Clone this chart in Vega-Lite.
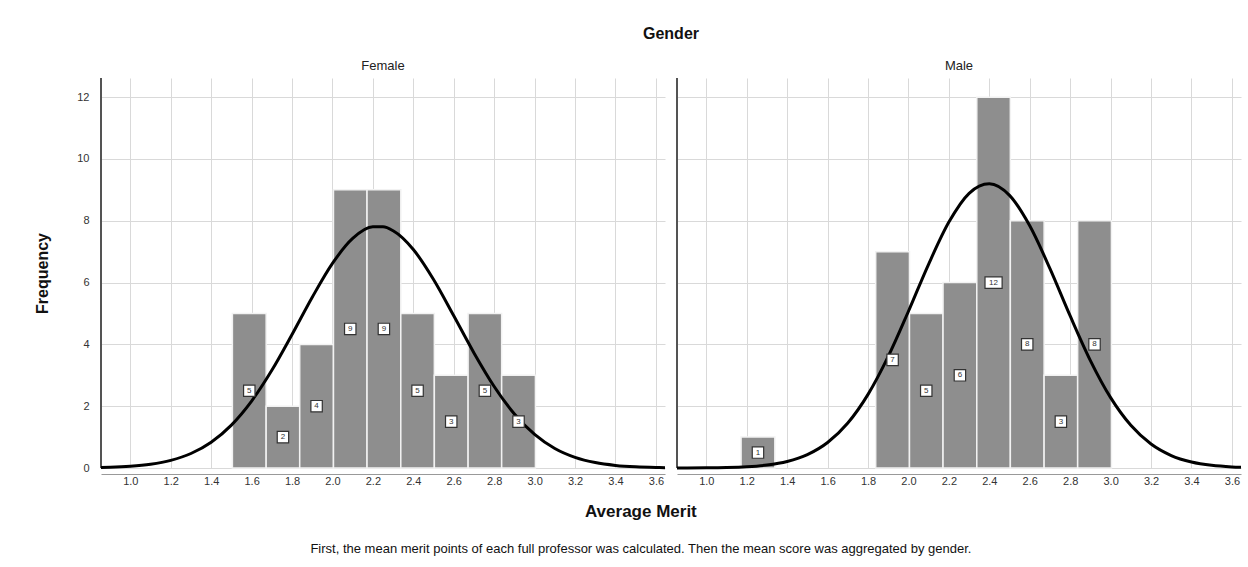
{
  "$schema": "https://vega.github.io/schema/vega-lite/v6.json",
  "background": "white",
  "padding": {"left": 34, "top": 26, "right": 4, "bottom": 4},
  "title": {
    "text": "Average Merit",
    "subtitle": "First, the mean merit points of each full professor was calculated. Then the mean score was aggregated by gender.",
    "orient": "bottom",
    "anchor": "middle",
    "font": "Liberation Sans",
    "fontSize": 17,
    "fontWeight": "bold",
    "color": "#111111",
    "subtitleFont": "Liberation Sans",
    "subtitleFontSize": 13,
    "subtitleColor": "#111111",
    "subtitlePadding": 22,
    "offset": 18
  },
  "data": {
    "values": [
      {"gender": "Female", "kind": "bar", "lo": 1.505, "hi": 1.672, "count": 5},
      {"gender": "Female", "kind": "bar", "lo": 1.672, "hi": 1.838, "count": 2},
      {"gender": "Female", "kind": "bar", "lo": 1.838, "hi": 2.005, "count": 4},
      {"gender": "Female", "kind": "bar", "lo": 2.005, "hi": 2.171, "count": 9},
      {"gender": "Female", "kind": "bar", "lo": 2.171, "hi": 2.338, "count": 9},
      {"gender": "Female", "kind": "bar", "lo": 2.338, "hi": 2.504, "count": 5},
      {"gender": "Female", "kind": "bar", "lo": 2.504, "hi": 2.671, "count": 3},
      {"gender": "Female", "kind": "bar", "lo": 2.671, "hi": 2.837, "count": 5},
      {"gender": "Female", "kind": "bar", "lo": 2.837, "hi": 3.004, "count": 3},
      {"gender": "Male", "kind": "bar", "lo": 1.172, "hi": 1.339, "count": 1},
      {"gender": "Male", "kind": "bar", "lo": 1.838, "hi": 2.005, "count": 7},
      {"gender": "Male", "kind": "bar", "lo": 2.005, "hi": 2.171, "count": 5},
      {"gender": "Male", "kind": "bar", "lo": 2.171, "hi": 2.338, "count": 6},
      {"gender": "Male", "kind": "bar", "lo": 2.338, "hi": 2.504, "count": 12},
      {"gender": "Male", "kind": "bar", "lo": 2.504, "hi": 2.671, "count": 8},
      {"gender": "Male", "kind": "bar", "lo": 2.671, "hi": 2.837, "count": 3},
      {"gender": "Male", "kind": "bar", "lo": 2.837, "hi": 3.004, "count": 8},
      {"gender": "Female", "kind": "curve", "x": 0.855, "y": 0.017},
      {"gender": "Female", "kind": "curve", "x": 0.9, "y": 0.024},
      {"gender": "Female", "kind": "curve", "x": 1.0, "y": 0.056},
      {"gender": "Female", "kind": "curve", "x": 1.1, "y": 0.122},
      {"gender": "Female", "kind": "curve", "x": 1.2, "y": 0.247},
      {"gender": "Female", "kind": "curve", "x": 1.3, "y": 0.469},
      {"gender": "Female", "kind": "curve", "x": 1.4, "y": 0.835},
      {"gender": "Female", "kind": "curve", "x": 1.5, "y": 1.389},
      {"gender": "Female", "kind": "curve", "x": 1.6, "y": 2.166},
      {"gender": "Female", "kind": "curve", "x": 1.7, "y": 3.16},
      {"gender": "Female", "kind": "curve", "x": 1.8, "y": 4.319},
      {"gender": "Female", "kind": "curve", "x": 1.9, "y": 5.526},
      {"gender": "Female", "kind": "curve", "x": 2.0, "y": 6.621},
      {"gender": "Female", "kind": "curve", "x": 2.1, "y": 7.428},
      {"gender": "Female", "kind": "curve", "x": 2.2, "y": 7.804},
      {"gender": "Female", "kind": "curve", "x": 2.25, "y": 7.804},
      {"gender": "Female", "kind": "curve", "x": 2.3, "y": 7.677},
      {"gender": "Female", "kind": "curve", "x": 2.4, "y": 7.071},
      {"gender": "Female", "kind": "curve", "x": 2.5, "y": 6.099},
      {"gender": "Female", "kind": "curve", "x": 2.6, "y": 4.925},
      {"gender": "Female", "kind": "curve", "x": 2.7, "y": 3.725},
      {"gender": "Female", "kind": "curve", "x": 2.8, "y": 2.638},
      {"gender": "Female", "kind": "curve", "x": 2.9, "y": 1.749},
      {"gender": "Female", "kind": "curve", "x": 3.0, "y": 1.086},
      {"gender": "Female", "kind": "curve", "x": 3.1, "y": 0.631},
      {"gender": "Female", "kind": "curve", "x": 3.2, "y": 0.344},
      {"gender": "Female", "kind": "curve", "x": 3.3, "y": 0.175},
      {"gender": "Female", "kind": "curve", "x": 3.4, "y": 0.084},
      {"gender": "Female", "kind": "curve", "x": 3.5, "y": 0.037},
      {"gender": "Female", "kind": "curve", "x": 3.6, "y": 0.016},
      {"gender": "Female", "kind": "curve", "x": 3.645, "y": 0.011},
      {"gender": "Male", "kind": "curve", "x": 0.855, "y": 0.001},
      {"gender": "Male", "kind": "curve", "x": 0.9, "y": 0.002},
      {"gender": "Male", "kind": "curve", "x": 1.0, "y": 0.005},
      {"gender": "Male", "kind": "curve", "x": 1.1, "y": 0.015},
      {"gender": "Male", "kind": "curve", "x": 1.2, "y": 0.04},
      {"gender": "Male", "kind": "curve", "x": 1.3, "y": 0.095},
      {"gender": "Male", "kind": "curve", "x": 1.4, "y": 0.211},
      {"gender": "Male", "kind": "curve", "x": 1.5, "y": 0.433},
      {"gender": "Male", "kind": "curve", "x": 1.6, "y": 0.825},
      {"gender": "Male", "kind": "curve", "x": 1.7, "y": 1.456},
      {"gender": "Male", "kind": "curve", "x": 1.8, "y": 2.383},
      {"gender": "Male", "kind": "curve", "x": 1.9, "y": 3.612},
      {"gender": "Male", "kind": "curve", "x": 2.0, "y": 5.073},
      {"gender": "Male", "kind": "curve", "x": 2.1, "y": 6.601},
      {"gender": "Male", "kind": "curve", "x": 2.2, "y": 7.957},
      {"gender": "Male", "kind": "curve", "x": 2.3, "y": 8.889},
      {"gender": "Male", "kind": "curve", "x": 2.4, "y": 9.198},
      {"gender": "Male", "kind": "curve", "x": 2.5, "y": 8.821},
      {"gender": "Male", "kind": "curve", "x": 2.6, "y": 7.837},
      {"gender": "Male", "kind": "curve", "x": 2.7, "y": 6.451},
      {"gender": "Male", "kind": "curve", "x": 2.8, "y": 4.92},
      {"gender": "Male", "kind": "curve", "x": 2.9, "y": 3.477},
      {"gender": "Male", "kind": "curve", "x": 3.0, "y": 2.276},
      {"gender": "Male", "kind": "curve", "x": 3.1, "y": 1.381},
      {"gender": "Male", "kind": "curve", "x": 3.2, "y": 0.776},
      {"gender": "Male", "kind": "curve", "x": 3.3, "y": 0.404},
      {"gender": "Male", "kind": "curve", "x": 3.4, "y": 0.195},
      {"gender": "Male", "kind": "curve", "x": 3.5, "y": 0.087},
      {"gender": "Male", "kind": "curve", "x": 3.6, "y": 0.036},
      {"gender": "Male", "kind": "curve", "x": 3.645, "y": 0.024}
    ]
  },
  "facet": {
    "column": {
      "field": "gender",
      "type": "nominal",
      "title": "Gender",
      "header": {
        "titleFont": "Liberation Sans",
        "titleFontSize": 16,
        "titleFontWeight": "bold",
        "titleColor": "#111111",
        "titlePadding": 8,
        "labelFont": "Liberation Sans",
        "labelFontSize": 13,
        "labelColor": "#222222",
        "labelPadding": 4
      }
    }
  },
  "spacing": 0,
  "spec": {
    "width": 564,
    "height": 390,
    "layer": [
      {
        "transform": [{"filter": "datum.kind == 'bar'"}],
        "mark": {"type": "bar", "fill": "#8e8e8e", "stroke": "#f2f2f2", "strokeWidth": 1.5},
        "encoding": {
          "x": {
            "field": "lo",
            "type": "quantitative",
            "scale": {"domain": [0.855, 3.645], "nice": false, "zero": false},
            "axis": {
              "title": null,
              "values": [1.0, 1.2, 1.4, 1.6, 1.8, 2.0, 2.2, 2.4, 2.6, 2.8, 3.0, 3.2, 3.4, 3.6],
              "format": ".1f",
              "grid": true,
              "gridColor": "#d9d9d9",
              "ticks": false,
              "domainColor": "#999999",
              "labelFont": "Liberation Sans",
              "labelFontSize": 11,
              "labelColor": "#333333",
              "labelPadding": 1
            }
          },
          "x2": {"field": "hi"},
          "y": {
            "field": "count",
            "type": "quantitative",
            "scale": {"domain": [0, 12.62], "nice": false},
            "axis": {
              "title": "Frequency",
              "values": [0, 2, 4, 6, 8, 10, 12],
              "grid": true,
              "gridColor": "#d9d9d9",
              "ticks": false,
              "domain": false,
              "labelFont": "Liberation Sans",
              "labelFontSize": 11,
              "labelColor": "#333333",
              "labelPadding": 6,
              "titleFont": "Liberation Sans",
              "titleFontSize": 16,
              "titleFontWeight": "bold",
              "titleColor": "#111111",
              "titlePadding": 26
            }
          },
          "y2": {"datum": 0}
        }
      },
      {
        "mark": {"type": "rule", "color": "#555555", "strokeWidth": 1.5},
        "encoding": {"x": {"datum": 0.855}}
      },
      {
        "transform": [{"filter": "datum.kind == 'curve'"}],
        "mark": {"type": "line", "color": "#000000", "strokeWidth": 3, "interpolate": "monotone"},
        "encoding": {
          "x": {"field": "x", "type": "quantitative"},
          "y": {"field": "y", "type": "quantitative"}
        }
      },
      {
        "transform": [
          {"filter": "datum.kind == 'bar'"},
          {"calculate": "(datum.lo + datum.hi) / 2", "as": "mid"},
          {"calculate": "datum.count / 2", "as": "half"}
        ],
        "mark": {"type": "point", "filled": true, "fill": "white", "stroke": "#333333", "strokeWidth": 1.2, "opacity": 1, "size": 130},
        "encoding": {
          "x": {"field": "mid", "type": "quantitative"},
          "y": {"field": "half", "type": "quantitative"},
          "shape": {"condition": {"test": "datum.count >= 10", "value": "M-1.5,-1H1.5V1H-1.5Z"}, "value": "square"}
        }
      },
      {
        "transform": [
          {"filter": "datum.kind == 'bar'"},
          {"calculate": "(datum.lo + datum.hi) / 2", "as": "mid"},
          {"calculate": "datum.count / 2", "as": "half"}
        ],
        "mark": {"type": "text", "font": "Liberation Sans", "fontSize": 8, "color": "#333333", "baseline": "middle", "align": "center"},
        "encoding": {
          "x": {"field": "mid", "type": "quantitative"},
          "y": {"field": "half", "type": "quantitative"},
          "text": {"field": "count", "type": "quantitative"}
        }
      }
    ]
  },
  "config": {
    "view": {"stroke": null}
  }
}
